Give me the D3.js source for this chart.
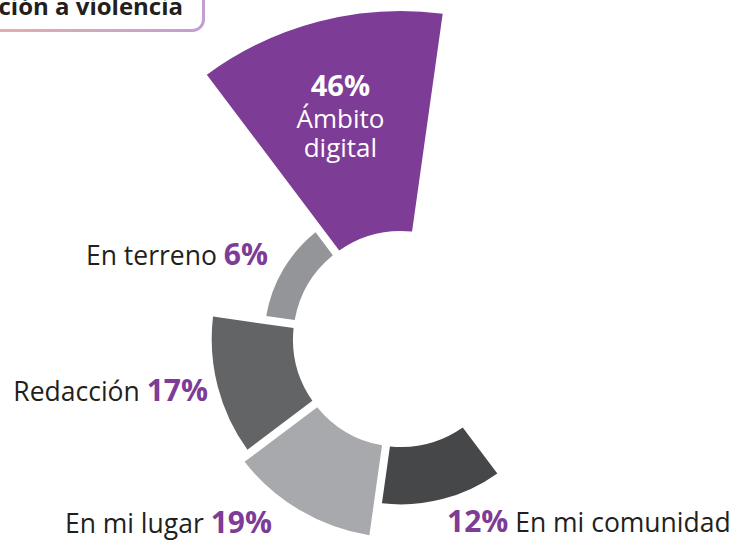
<!DOCTYPE html>
<html><head><meta charset="utf-8">
<script src="https://cdn.jsdelivr.net/npm/d3@7/dist/d3.min.js"></script>
<style>
html,body{margin:0;padding:0;background:#fff;overflow:hidden}
svg{display:block}
text{font-family:"Open Sans","Noto Sans",sans-serif}
</style></head>
<body>
<script>
// Data
const categories = ["En mi comunidad", "En mi lugar", "Redacción", "En terreno", "Ámbito digital"];
const values = [12, 19, 17, 6, 46];
const colors = ["#464749", "#a7a9ac", "#636466", "#939598", "#7d3c96"];
const title = "Exposición a violencia";

const W = 736, H = 542;
const cx = 401, cy = 339;
const svg = d3.select("body").append("svg").attr("width", W).attr("height", H);

// Title box (partially out of view)
const defs = svg.append("defs");
const grad = defs.append("linearGradient").attr("id", "tg").attr("x1", "0%").attr("x2", "100%");
grad.append("stop").attr("offset", "0%").attr("stop-color", "#eab0a4");
grad.append("stop").attr("offset", "100%").attr("stop-color", "#c29fd3");
svg.append("rect").attr("x", -40).attr("y", -30).attr("width", 243.5).attr("height", 60.5)
  .attr("rx", 11).attr("fill", "#fff").attr("stroke", "url(#tg)").attr("stroke-width", 3);
svg.append("text").attr("x", 183).attr("y", 15).attr("text-anchor", "end")
  .attr("font-size", 24).attr("font-weight", 700).attr("fill", "#231f20").text(title);

const deg = Math.PI / 180;
const angle = d3.scaleBand().domain(categories).range([-217 * deg, 8 * deg]).paddingInner(0).paddingOuter(0);
const radius = d3.scaleLinear().domain([0, 46]).range([108, 328]);

const arc = d3.arc()
  .innerRadius(108)
  .outerRadius(d => radius(d.value))
  .startAngle(d => angle(d.cat))
  .endAngle(d => angle(d.cat) + angle.bandwidth())
  .padAngle(0.08).padRadius(100);

const data = categories.map((c, i) => ({cat: c, value: values[i], color: colors[i]}));
const g = svg.append("g").attr("transform", `translate(${cx},${cy})`);
g.selectAll("path").data(data).join("path").attr("d", arc).attr("fill", d => d.color);

// Big label inside the purple slice
const big = data[4];
const mid = angle(big.cat) + angle.bandwidth() / 2;
const lr = 230;
const bx = lr * Math.sin(mid) - 3, by = -lr * Math.cos(mid);
const bigLines = [[big.value + "%", -20, 700, 29], ["Ámbito", 12, 400, 26], ["digital", 41, 400, 26]];
bigLines.forEach(([txt, dy, fw, fs]) => {
  g.append("text").attr("x", bx).attr("y", by + dy).attr("text-anchor", "middle")
    .attr("fill", "#fff").attr("font-weight", fw).attr("font-size", fs).text(txt);
});

// Outside labels [x, y, anchor, percentFirst]
const labelPos = {
  "En terreno": [268, 265, "end", false],
  "Redacción": [208, 401, "end", false],
  "En mi lugar": [272, 533, "end", false],
  "En mi comunidad": [447, 532, "start", true]
};
data.slice(0, 4).forEach(d => {
  const [x, y, anchor, pf] = labelPos[d.cat];
  const t = svg.append("text").attr("x", x).attr("y", y).attr("text-anchor", anchor)
    .attr("font-size", 26.5).attr("fill", "#231f20");
  const pct = () => t.append("tspan").attr("font-weight", 700).attr("font-size", 30).attr("fill", "#7d3c96").text(d.value + "%");
  if (pf) { pct(); t.append("tspan").text(" " + d.cat); }
  else { t.append("tspan").text(d.cat + " "); pct(); }
});
</script>
</body></html>
